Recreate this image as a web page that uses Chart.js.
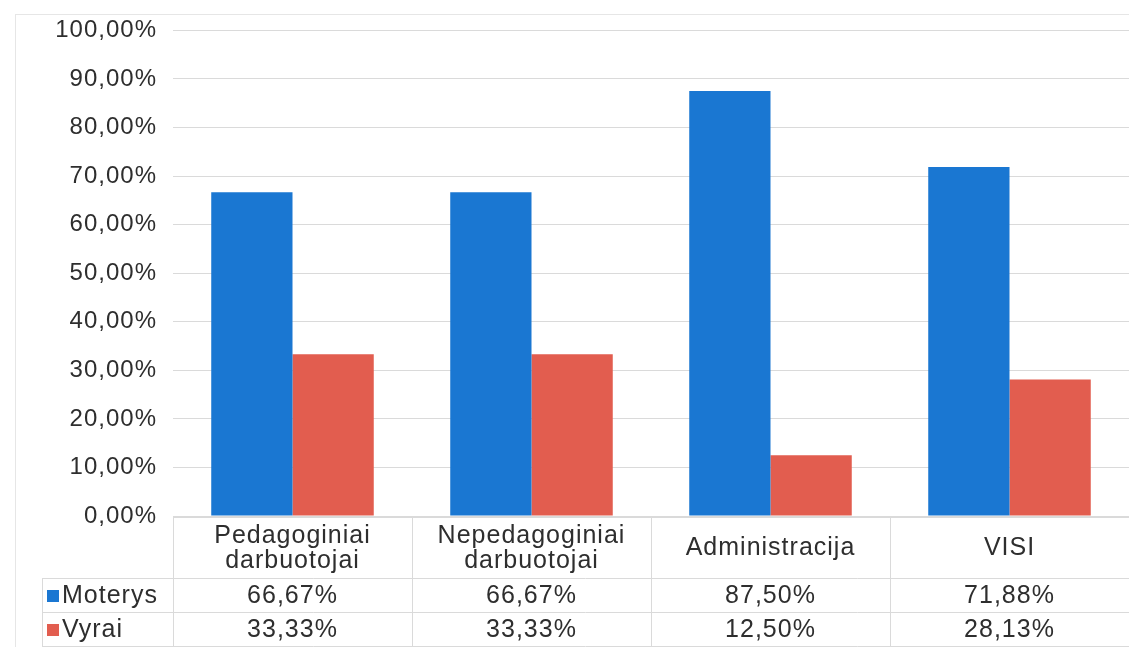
<!DOCTYPE html>
<html>
<head>
<meta charset="utf-8">
<script src="https://cdn.jsdelivr.net/npm/chart.js@4"></script>
<style>
  html, body { margin: 0; padding: 0; background: #fff; }
  #wrap { width: 1129px; height: 647px; position: relative; }
</style>
</head>
<body>
<div id="wrap"><canvas id="myChart"></canvas></div>
<script>
const ctx = document.querySelector("#myChart")

// categories: each entry is the header cell, split in lines
const labels = [["Pedagoginiai", "darbuotojai"], ["Nepedagoginiai", "darbuotojai"], ["Administracija"], ["VISI"]];
const seriesNames = ["Moterys", "Vyrai"];
const moterys = [66.67, 66.67, 87.50, 71.88];
const vyrai = [33.33, 33.33, 12.50, 28.13];
const yTicks = [0, 10, 20, 30, 40, 50, 60, 70, 80, 90, 100];

const blue = '#1a77d2';
const red = '#e25d4f';
const textColor = '#2e2e2e';
const lineColor = '#dadada';
const font = '"Liberation Sans", Arial, sans-serif';

const pct = v => v.toFixed(2).replace('.', ',') + '%';

const data = {
  labels: labels,
  datasets: [{
    label: seriesNames[0],
    data: moterys,
    backgroundColor: blue,
  }, {
    label: seriesNames[1],
    data: vyrai,
    backgroundColor: red,
  }]
};

// the scan looks a bit wider than plain Arial, so space the letters a little
const spacing = {
  id: 'spacing',
  beforeDraw(chart) { chart.ctx.letterSpacing = '1px'; }
};

// draws the data table under the plot (header row, legend keys, values)
const dataTable = {
  id: 'dataTable',
  afterDraw(chart) {
    const c = chart.ctx;
    const area = chart.chartArea;
    const x = chart.scales.x;
    const colW = x.getPixelForValue(1) - x.getPixelForValue(0);
    const top = area.bottom + 1;
    const rowH = [61, 34, 34];
    const y1 = top + rowH[0], y2 = y1 + rowH[1], y3 = y2 + rowH[2];
    const legendLeft = 42;

    c.save();
    c.letterSpacing = '1px';
    c.strokeStyle = lineColor;
    c.lineWidth = 1;
    c.beginPath();
    // horizontals
    c.moveTo(area.left, top + 0.5); c.lineTo(area.right, top + 0.5);
    [y1, y2, y3].forEach(y => { c.moveTo(legendLeft, y + 0.5); c.lineTo(area.right, y + 0.5); });
    // verticals
    c.moveTo(legendLeft + 0.5, y1); c.lineTo(legendLeft + 0.5, y3);
    for (let i = 0; i < labels.length; i++) {
      const xl = Math.round(x.getPixelForValue(i) - colW / 2) + 0.5;
      c.moveTo(xl, top); c.lineTo(xl, y3);
    }
    c.stroke();

    c.fillStyle = textColor;
    c.font = '25px ' + font;
    c.textAlign = 'center';
    c.textBaseline = 'middle';
    labels.forEach((lab, i) => {
      const cx = x.getPixelForValue(i);
      const mid = top + rowH[0] / 2 + 1;
      const lh = 25;
      lab.forEach((line, j) => {
        c.fillText(line, cx, mid + (j - (lab.length - 1) / 2) * lh);
      });
    });

    const rows = [[y1, y2], [y2, y3]];
    chart.data.datasets.forEach((ds, k) => {
      const cy = (rows[k][0] + rows[k][1]) / 2 + 1;
      c.fillStyle = ds.backgroundColor;
      c.fillRect(47, cy - 6, 12, 12);
      c.fillStyle = textColor;
      c.textAlign = 'left';
      c.fillText(ds.label, 62, cy);
      c.textAlign = 'center';
      ds.data.forEach((v, i) => c.fillText(pct(v), x.getPixelForValue(i), cy));
    });

    // faint frame of the scanned chart
    c.strokeStyle = '#e6e6e6';
    c.strokeRect(15.5, 14.5, chart.width, y3 + 1 - 14);
    c.restore();
  }
};

const config = {
  type: 'bar',
  data: data,
  options: {
    responsive: true,
    maintainAspectRatio: false,
    animation: false,
    layout: { padding: { top: 27, bottom: 131, left: 0, right: 0 } },
    datasets: { bar: { categoryPercentage: 0.68, barPercentage: 1 } },
    plugins: {
      legend: { display: false },
      tooltip: { enabled: false }
    },
    scales: {
      x: { display: false },
      y: {
        min: 0,
        max: 100,
        afterFit: s => { s.width = 173; },
        afterBuildTicks: s => { s.ticks = yTicks.map(v => ({ value: v })); },
        border: { display: false },
        grid: { color: lineColor, drawTicks: false },
        ticks: {
          padding: 16,
          color: textColor,
          font: { size: 24, family: font },
          callback: v => pct(v)
        }
      }
    }
  },
  plugins: [spacing, dataTable]
};

new Chart(ctx, config)
</script>
</body>
</html>
